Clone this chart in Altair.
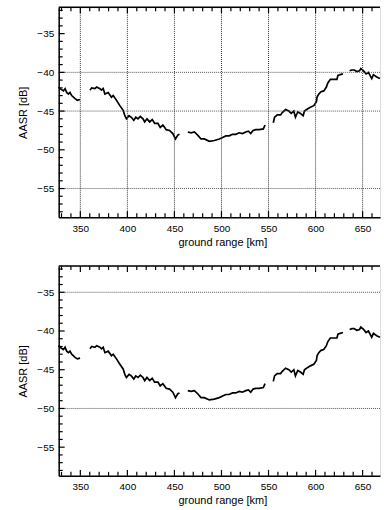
import altair as alt
import pandas as pd

# ---- data (ground range [km], AASR [dB]) ----
seg1_x = [326.7, 328.5, 332.0, 333.8, 335.5, 337.3, 339.0, 340.8, 344.4, 346.8, 349.7]
seg1_y = [-41.9, -42.1, -42.4, -42.1, -42.6, -42.8, -42.6, -43.0, -43.4, -43.6, -43.5]

seg2_x = [360.3, 362.0, 365.5, 367.3, 370.8, 372.5, 374.3, 376.1, 379.6, 383.1, 384.9,
          388.4, 392.0, 395.5, 397.3, 399.0, 401.8, 404.2, 406.8, 408.9, 411.3, 413.7,
          416.6, 418.4, 420.8, 423.7, 426.4, 429.0, 432.5, 434.9, 437.7, 439.5, 441.2,
          444.8, 448.3, 451.1, 453.6, 455.4]
seg2_y = [-42.3, -42.0, -42.1, -41.9, -42.1, -42.3, -42.1, -42.8, -42.6, -43.2, -43.0,
          -43.6, -44.3, -44.9, -45.6, -46.0, -45.6, -45.8, -46.2, -45.8, -46.0, -45.7,
          -46.0, -46.4, -46.0, -46.4, -46.1, -46.6, -46.6, -47.1, -46.8, -47.1, -47.4,
          -47.5, -47.9, -48.6, -48.1, -48.0]

seg3_x = [464.2, 467.7, 471.2, 474.7, 478.2, 481.8, 487.1, 492.4, 497.7, 501.2, 504.7,
          508.2, 511.7, 515.2, 518.8, 522.3, 525.8, 528.6, 531.1, 533.6, 536.4, 540.0,
          544.5, 546.3]
seg3_y = [-47.7, -47.8, -47.7, -48.1, -48.6, -48.6, -48.9, -48.8, -48.6, -48.4, -48.2,
          -48.2, -48.0, -48.0, -47.8, -47.9, -47.7, -47.6, -47.9, -47.5, -47.4, -47.4,
          -47.3, -46.8]

seg4_x = [555.1, 556.4, 559.3, 562.8, 564.6, 568.1, 571.6, 574.1, 576.9, 578.6, 581.1,
          583.9, 586.8, 588.2, 591.7, 594.5, 598.1, 600.9, 601.6, 603.4, 605.8, 608.7,
          611.5, 612.9, 615.7, 619.2, 622.7, 623.8, 626.2, 629.1]
seg4_y = [-46.5, -45.8, -45.5, -45.5, -45.2, -44.8, -45.0, -45.3, -45.0, -45.8, -45.1,
          -45.3, -45.6, -45.0, -44.7, -44.5, -44.3, -43.8, -43.2, -42.8, -42.5, -42.4,
          -41.9, -41.4, -40.9, -40.9, -40.9, -40.4, -40.3, -40.2]

seg5_x = [636.2, 638.6, 641.1, 643.9, 646.7, 648.1, 651.0, 653.7, 656.2, 659.7, 661.5,
          665.0, 668.4]
seg5_y = [-39.8, -39.7, -39.7, -39.9, -39.8, -39.5, -39.8, -40.2, -40.0, -40.8, -40.3,
          -40.6, -40.8]

segments = [(seg1_x, seg1_y), (seg2_x, seg2_y), (seg3_x, seg3_y),
            (seg4_x, seg4_y), (seg5_x, seg5_y)]

x_major = [350, 400, 450, 500, 550, 600, 650]
x_minor = [v for v in range(330, 670, 10) if v % 50 != 0]
y_major = [-55, -50, -45, -40, -35]
y_minor = [v for v in range(-58, -31) if v % 5 != 0]

top_hgrid = [-40, -45, -55]
top_vgrid = [350, 400, 450, 500, 550, 600, 650]
bot_hgrid = [-35, -50]

x_domain = [327, 668.5]
y_domain = [-58.7, -31.6]

rows = []
for i, (xs, ys) in enumerate(segments):
    for xv, yv in zip(xs, ys):
        rows.append({"range": xv, "aasr": yv, "seg": i})
df = pd.DataFrame(rows)

W = 323
H = 211
FONT = "DejaVu Sans"

xscale = alt.Scale(domain=x_domain, nice=False, zero=False)
yscale = alt.Scale(domain=y_domain, nice=False, zero=False)


def panel(hgrid, vgrid):
    xaxis = alt.Axis(values=x_major, title="ground range [km]", ticks=False, grid=False,
                     domain=True, domainColor="black", domainWidth=1.5,
                     labelPadding=6, titlePadding=3, titleX=W / 2 + 3,
                     titleFontWeight=400)
    yaxis = alt.Axis(values=y_major, title="AASR [dB]", ticks=False, grid=False,
                     domain=True, domainColor="black", domainWidth=1.5,
                     labelPadding=5, titlePadding=8, titleFontWeight=400)

    line = alt.Chart(df).mark_line(color="black", strokeWidth=1.7).encode(
        x=alt.X("range:Q", scale=xscale, axis=xaxis),
        y=alt.Y("aasr:Q", scale=yscale, axis=yaxis),
        detail="seg:N",
        order="range:Q",
    )

    layers = []
    if hgrid:
        layers.append(alt.Chart(pd.DataFrame({"g": hgrid})).mark_rule(
            color="#555", strokeWidth=1, strokeDash=[1, 1]).encode(
            y=alt.Y("g:Q", scale=yscale)))
    if vgrid:
        layers.append(alt.Chart(pd.DataFrame({"g": vgrid})).mark_rule(
            color="#333", strokeWidth=1, strokeDash=[1, 1]).encode(
            x=alt.X("g:Q", scale=xscale)))

    # top border line
    layers.append(alt.Chart(pd.DataFrame({"a": [0]})).mark_rule(
        color="black", strokeWidth=1.5).encode(
        x=alt.value(0), x2=alt.value(W), y=alt.value(0)))

    def xticks(vals, length):
        d = pd.DataFrame({"t": vals})
        bot = alt.Chart(d).mark_rule(color="black", strokeWidth=1.2).encode(
            x=alt.X("t:Q", scale=xscale), y=alt.value(H), y2=alt.value(H - length))
        top = alt.Chart(d).mark_rule(color="black", strokeWidth=1.2).encode(
            x=alt.X("t:Q", scale=xscale), y=alt.value(0), y2=alt.value(length))
        return [bot, top]

    def yticks(vals, length):
        d = pd.DataFrame({"t": vals})
        return [alt.Chart(d).mark_rule(color="black", strokeWidth=1.2).encode(
            y=alt.Y("t:Q", scale=yscale), x=alt.value(0), x2=alt.value(length))]

    layers += xticks(x_major, 6) + xticks(x_minor, 4)
    layers += yticks(y_major, 6) + yticks(y_minor, 4)

    return alt.layer(line, *layers).properties(width=W, height=H)


top = panel(top_hgrid, top_vgrid)
bottom = panel(bot_hgrid, None)

chart = alt.vconcat(top, bottom, spacing=16).properties(
    padding={"left": 17, "top": 4, "right": 0, "bottom": 0}
).configure_view(
    strokeWidth=0, stroke="transparent"
).configure_axis(
    labelFont=FONT, titleFont=FONT, labelFontSize=10, titleFontSize=10,
    labelColor="black", titleColor="black", titleFontWeight=400,
).configure(background="white")

chart.save("out.html", embed_options={"renderer": "svg", "actions": False})
